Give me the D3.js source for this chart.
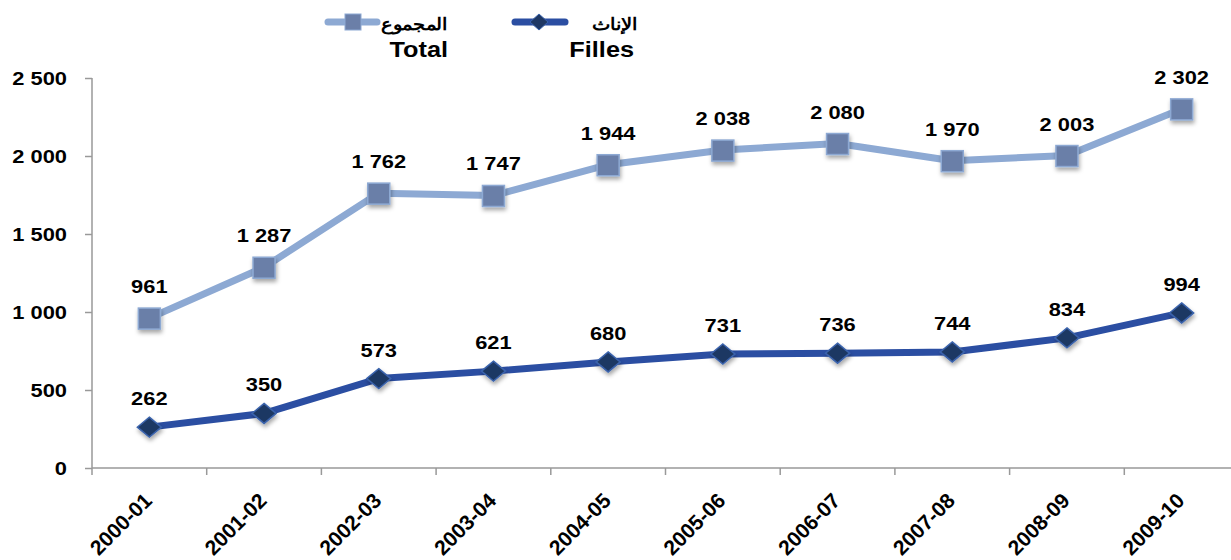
<!DOCTYPE html>
<html><head><meta charset="utf-8">
<script src="https://cdn.jsdelivr.net/npm/d3@7"></script>
<style>body{margin:0;background:#fff;}svg{display:block;font-family:"Liberation Sans",Arial,sans-serif;}</style>
</head><body>
<svg id="c" width="1231" height="560"></svg>
<script>
const categories = ["2000-01","2001-02","2002-03","2003-04","2004-05","2005-06","2006-07","2007-08","2008-09","2009-10"];
const totalValues = [961,1287,1762,1747,1944,2038,2080,1970,2003,2302];
const fillesValues = [262,350,573,621,680,731,736,744,834,994];
const yTicks = [0,500,1000,1500,2000,2500];
const seriesNames = [{ar:"المجموع", fr:"Total"},{ar:"الإناث", fr:"Filles"}];

const SX = 1.15; // horizontal stretch of text in the reference
const svg = d3.select("#c");
const defs = svg.append("defs");
const f = defs.append("filter").attr("id","sh").attr("x","-50%").attr("y","-50%").attr("width","200%").attr("height","200%");
f.append("feDropShadow").attr("dx",1).attr("dy",3).attr("stdDeviation",2).attr("flood-color","#000").attr("flood-opacity",0.35);

const x = d3.scaleBand().domain(categories).range([92,1239]);
const y = d3.scaleLinear().domain([0,2500]).range([468,78]);
const fmt = v => d3.format(",")(v).replace(/,/g," ");
const cx = d => x(d)+x.bandwidth()/2;

function stxt(g, px, py, txt, size, anchor){
  return g.append("text").attr("transform",`translate(${px},${py}) scale(${SX},1)`)
    .attr("text-anchor",anchor).attr("font-size",size).attr("font-weight","bold").attr("fill","#000").text(txt);
}

// y axis
const ya = svg.append("g").attr("transform","translate(92,0)")
  .call(d3.axisLeft(y).tickValues(yTicks).tickSize(7).tickFormat(""));
ya.select(".domain").attr("stroke","#999").attr("stroke-width",1.5).attr("d","M0,78V468");
ya.selectAll(".tick line").attr("stroke","#999").attr("stroke-width",1.5);
const yl = svg.append("g");
yTicks.forEach(t => stxt(yl, 67, y(t)+7, fmt(t), 19, "end"));

// x axis
const xa = svg.append("g").attr("transform","translate(0,468)")
  .call(d3.axisBottom(x).tickSize(0).tickFormat(""));
xa.select(".domain").attr("stroke","#999").attr("stroke-width",1.5).attr("d","M92,0H1239");
svg.append("g").selectAll("line").data(categories).join("line")
  .attr("x1",d=>x(d)).attr("x2",d=>x(d)).attr("y1",468).attr("y2",475).attr("stroke","#999").attr("stroke-width",1.5);
svg.append("g").selectAll("text").data(categories).join("text")
  .attr("transform",d=>`translate(${cx(d)+4},${502}) rotate(-45)`)
  .attr("text-anchor","end").attr("font-size",21).attr("font-weight","bold").attr("fill","#000").text(d=>d);

const line = d3.line().x((d,i)=>cx(categories[i])).y(d=>y(d));

// Total
svg.append("path").datum(totalValues).attr("d",line).attr("fill","none").attr("stroke","#8DA9D3").attr("stroke-width",7).attr("stroke-linejoin","round");
svg.append("g").selectAll("rect").data(totalValues).join("rect")
  .attr("x",(d,i)=>cx(categories[i])-11).attr("y",d=>y(d)-10).attr("width",22).attr("height",21)
  .attr("fill","#6B7FA8").attr("stroke","#8DA9D3").attr("stroke-width",1.5).attr("filter","url(#sh)");
const tl = svg.append("g");
totalValues.forEach((v,i)=>stxt(tl, cx(categories[i]), y(v)-25, fmt(v), 19, "middle"));

// Filles
svg.append("path").datum(fillesValues).attr("d",line).attr("fill","none").attr("stroke","#2B4EA2").attr("stroke-width",7).attr("stroke-linejoin","round");
const diamond = "M0,-10L12,0L0,10L-12,0Z";
svg.append("g").selectAll("path").data(fillesValues).join("path")
  .attr("transform",(d,i)=>`translate(${cx(categories[i])},${y(d)})`)
  .attr("d",diamond)
  .attr("fill","#1F3864").attr("stroke","#3A63AC").attr("stroke-width",1.5).attr("filter","url(#sh)");
const fl = svg.append("g");
fillesValues.forEach((v,i)=>stxt(fl, cx(categories[i]), y(v)-22, fmt(v), 19, "middle"));

// Legend
const lg = svg.append("g");
lg.append("line").attr("x1",328).attr("x2",377).attr("y1",22).attr("y2",22).attr("stroke","#8DA9D3").attr("stroke-width",7).attr("stroke-linecap","round");
lg.append("rect").attr("x",345).attr("y",14).attr("width",16).attr("height",16).attr("fill","#6B7FA8").attr("stroke","#8DA9D3").attr("stroke-width",1);
stxt(lg, 447, 30, seriesNames[0].ar, 17, "end");
stxt(lg, 448, 57, seriesNames[0].fr, 22, "end");
lg.append("line").attr("x1",515).attr("x2",565).attr("y1",22).attr("y2",22).attr("stroke","#2B4EA2").attr("stroke-width",7).attr("stroke-linecap","round");
lg.append("path").attr("transform","translate(539,22)").attr("d","M0,-8L9,0L0,8L-9,0Z")
  .attr("fill","#1F3864").attr("stroke","#3A63AC").attr("stroke-width",1);
stxt(lg, 637, 30, seriesNames[1].ar, 17, "end");
stxt(lg, 634, 57, seriesNames[1].fr, 22, "end");
</script>
</body></html>
